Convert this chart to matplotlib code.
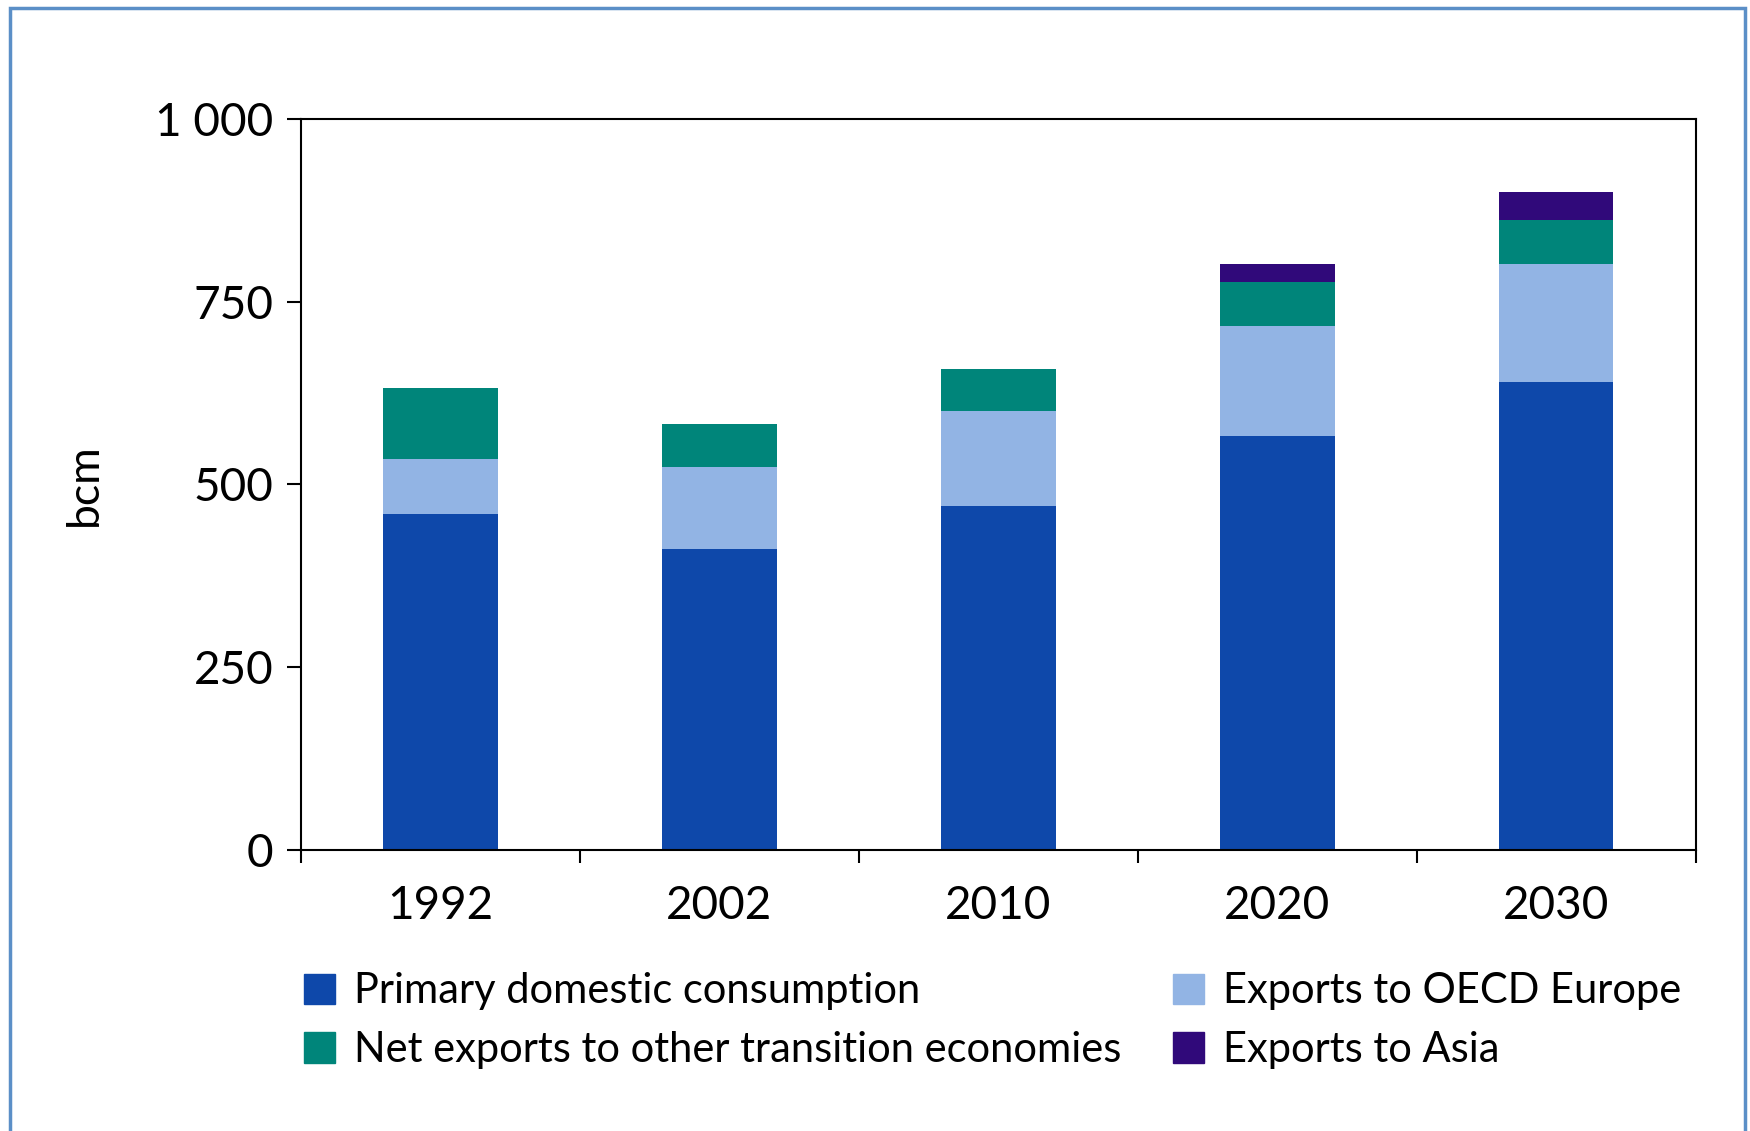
import numpy as np
import matplotlib
matplotlib.use("Agg")
import matplotlib.pyplot as plt
from matplotlib.patches import Rectangle, Patch
from matplotlib.ticker import FixedLocator

plt.rcParams['font.family'] = ['Lato', 'DejaVu Sans']

years = ['1992', '2002', '2010', '2020', '2030']
domestic = [460, 412, 471, 566, 640]
oecd_europe = [75, 112, 130, 151, 162]
transition = [97, 59, 57, 60, 60]
asia = [0, 0, 0, 24, 38]

series = [
    ('Primary domestic consumption', domestic, '#0e48aa'),
    ('Exports to OECD Europe', oecd_europe, '#92b4e4'),
    ('Net exports to other transition economies', transition, '#00857a'),
    ('Exports to Asia', asia, '#30097a'),
]

yticks = [0, 250, 500, 750, 1000]
ytick_labels = ['0', '250', '500', '750', '1 000']

fig = plt.figure(figsize=(17.5, 11.31), dpi=100)
ax = fig.add_axes([0.172, 0.2485, 0.797, 0.6465])

x = np.arange(len(years))
bottom = np.zeros(len(years))
handles = {}
for name, vals, color in series:
    vals = np.array(vals, dtype=float)
    ax.bar(x, vals, 0.41, bottom=bottom, color=color, linewidth=0)
    handles[name] = Patch(color=color)
    bottom += vals

ax.set_xlim(-0.5, len(years) - 0.5)
ax.set_ylim(0, 1000)
ax.set_xticks(x)
ax.set_xticklabels(years, fontsize=33)
ax.xaxis.set_minor_locator(FixedLocator(np.arange(-0.5, len(years), 1.0)))
ax.tick_params(axis='x', which='major', length=0, pad=25)
ax.tick_params(axis='x', which='minor', length=9, width=1.5, direction='out')
ax.set_yticks(yticks)
ax.set_yticklabels(ytick_labels, fontsize=33)
ax.tick_params(axis='y', length=10, width=1.5, pad=10, direction='out')
for s in ax.spines.values():
    s.set_linewidth(1.5)
ax.set_ylabel('bcm', fontsize=32, labelpad=36)

order = ['Primary domestic consumption', 'Net exports to other transition economies',
         'Exports to OECD Europe', 'Exports to Asia']
fig.legend([handles[n] for n in order], order, ncol=2, loc='upper left',
           bbox_to_anchor=(0.164, 0.155), frameon=False, fontsize=30,
           handlelength=0.75, handleheight=0.75, handletextpad=0.45,
           columnspacing=1.25, labelspacing=0.5, borderaxespad=0)

# outer frame
fig.patches.append(Rectangle((10 / 1750, -0.01), 1735 / 1750, 1.01 - 8 / 1131,
                             transform=fig.transFigure, fill=False,
                             edgecolor='#5b8fc7', linewidth=2.5))

fig.savefig('out.png', dpi=100, facecolor='white')
